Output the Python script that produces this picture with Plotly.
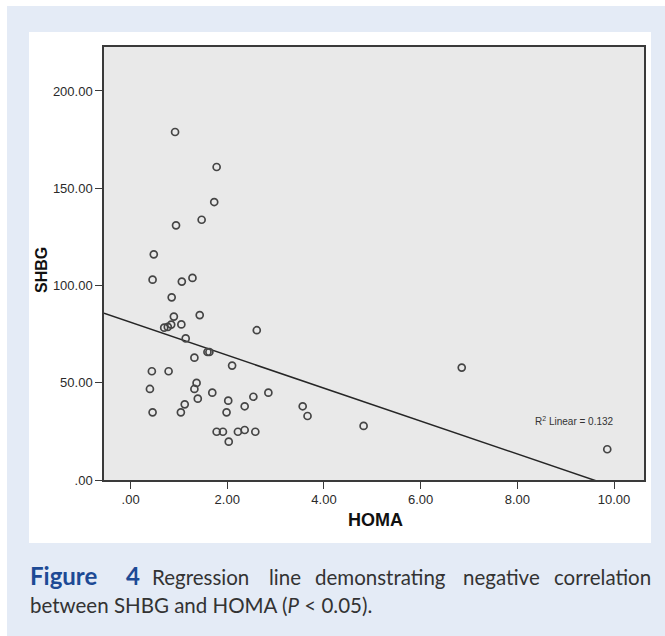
import plotly.graph_objects as go

# ---- data ----
homa = [0.92, 1.78, 1.73, 1.47, 0.94, 0.48, 0.455, 1.06, 1.28, 0.85,
        0.895, 1.43, 1.05, 0.695, 0.77, 0.84, 2.61, 1.14, 1.59, 1.63,
        1.32, 2.10, 0.44, 0.786, 1.365, 0.40, 1.32, 1.69, 2.85, 2.54,
        2.02, 1.39, 1.12, 2.36, 3.56, 3.66, 0.455, 1.04, 1.985, 1.78,
        1.91, 2.22, 2.36, 2.58, 2.03, 6.85, 4.82, 9.86]
shbg = [178.9, 160.9, 142.9, 133.8, 130.9, 116.0, 103.0, 102.0, 103.9, 93.9,
        84.0, 84.8, 80.0, 78.3, 78.7, 79.9, 77.0, 72.8, 65.8, 65.8,
        62.9, 58.8, 55.9, 55.9, 49.9, 46.8, 46.8, 44.9, 44.9, 42.8,
        40.8, 41.8, 38.9, 37.9, 37.9, 32.9, 34.8, 34.8, 34.8, 24.8,
        24.8, 24.8, 25.7, 24.8, 19.7, 57.8, 27.8, 15.8]

fit_intercept = 81.05
fit_slope = -8.46
r2_text = "R<sup>2</sup> Linear = 0.132"

x_tickvals = [0, 2, 4, 6, 8, 10]
x_ticktext = [".00", "2.00", "4.00", "6.00", "8.00", "10.00"]
y_tickvals = [0, 50, 100, 150, 200]
y_ticktext = [".00", "50.00", "100.00", "150.00", "200.00"]

x_range = [-0.55, 10.62]
y_range = [0, 222.6]

# ---- geometry (pixels) ----
W, H = 665, 636
L, R, T, B = 104, 644, 47, 480
pw, ph = R - L, B - T


def px(x):
    return (x - L) / pw


def py(y):
    return (B - y) / ph


fig = go.Figure()

line_x = x_range
line_y = [fit_intercept + fit_slope * v for v in line_x]
fig.add_trace(go.Scatter(x=line_x, y=line_y, mode="lines",
                         line=dict(color="#262626", width=1.5),
                         hoverinfo="skip", showlegend=False))
fig.add_trace(go.Scatter(x=homa, y=shbg, mode="markers",
                         marker=dict(symbol="circle-open", size=7,
                                     color="#454545", line=dict(width=1.7)),
                         showlegend=False))

shapes = [
    dict(type="rect", xref="paper", yref="paper", layer="below",
         x0=px(7), x1=px(W + 2), y0=py(H + 2), y1=py(6),
         fillcolor="#e4ebf6", line=dict(width=0)),
    dict(type="rect", xref="paper", yref="paper", layer="below",
         x0=px(29), x1=px(651), y0=py(543), y1=py(32),
         fillcolor="#ffffff", line=dict(width=0)),
    dict(type="rect", xref="paper", yref="paper", layer="below",
         x0=0, x1=1, y0=0, y1=1,
         fillcolor="#e9e9e9", line=dict(width=0)),
]

tick_font = dict(family="Liberation Sans, Arial, sans-serif", size=13, color="#2a2a2a")
cap_font = dict(family="Lato, sans-serif", size=20.5, color="#333333")
fig_font = dict(family="Lato, sans-serif", size=24, color="#1d4a95")

y1c, y2c = 577, 605

annotations = [
    dict(text="<b>SHBG</b>", x=px(41), y=py(270), xref="paper", yref="paper",
         textangle=-90, showarrow=False, xanchor="center", yanchor="middle",
         font=dict(family="Liberation Sans, Arial, sans-serif", size=16, color="#111")),
    dict(text="<b>HOMA</b>", x=px(375), y=py(520), xref="paper", yref="paper",
         showarrow=False, xanchor="center", yanchor="middle",
         font=dict(family="Liberation Sans, Arial, sans-serif", size=18, color="#111")),
    dict(text=r2_text, x=px(574), y=py(421), xref="paper", yref="paper",
         showarrow=False, xanchor="center", yanchor="middle",
         font=dict(family="Liberation Sans, Arial, sans-serif", size=10, color="#333")),
    # caption line 1 (justified)
    dict(text="<b>Figure</b>", x=px(29), y=py(y1c - 1.5), xref="paper", yref="paper",
         showarrow=False, xanchor="left", yanchor="middle", font=fig_font),
    dict(text="<b>4</b>", x=px(125), y=py(y1c - 1.5), xref="paper", yref="paper",
         showarrow=False, xanchor="left", yanchor="middle", font=fig_font),
    dict(text="Regression", x=px(151), y=py(y1c), xref="paper", yref="paper",
         showarrow=False, xanchor="left", yanchor="middle", font=cap_font),
    dict(text="line", x=px(268), y=py(y1c), xref="paper", yref="paper",
         showarrow=False, xanchor="left", yanchor="middle", font=cap_font),
    dict(text="demonstrating", x=px(447), y=py(y1c), xref="paper", yref="paper",
         showarrow=False, xanchor="right", yanchor="middle", font=cap_font),
    dict(text="negative", x=px(462), y=py(y1c), xref="paper", yref="paper",
         showarrow=False, xanchor="left", yanchor="middle", font=cap_font),
    dict(text="correlation", x=px(652), y=py(y1c), xref="paper", yref="paper",
         showarrow=False, xanchor="right", yanchor="middle", font=cap_font),
    dict(text="between SHBG and HOMA (<i>P</i> &lt; 0.05).", x=px(29), y=py(y2c),
         xref="paper", yref="paper", showarrow=False, xanchor="left",
         yanchor="middle", font=cap_font),
]
for a in annotations:
    a["borderpad"] = 0

fig.update_layout(
    width=W, height=H,
    margin=dict(l=L, r=W - R, t=T, b=H - B, pad=0),
    paper_bgcolor="#ffffff",
    plot_bgcolor="rgba(0,0,0,0)",
    shapes=shapes,
    annotations=annotations,
    showlegend=False,
    xaxis=dict(range=x_range, tickvals=x_tickvals, ticktext=x_ticktext,
               showgrid=False, zeroline=False, showline=True, mirror=True,
               linecolor="#3a3a3a", linewidth=1.5, ticks="outside", ticklen=7,
               tickwidth=1.3, tickcolor="#3a3a3a", tickfont=tick_font),
    yaxis=dict(range=y_range, tickvals=y_tickvals, ticktext=y_ticktext,
               showgrid=False, zeroline=False, showline=True, mirror=True,
               linecolor="#3a3a3a", linewidth=1.5, ticks="outside", ticklen=7,
               tickwidth=1.3, tickcolor="#3a3a3a", tickfont=tick_font),
)

fig.write_html("out.html")
